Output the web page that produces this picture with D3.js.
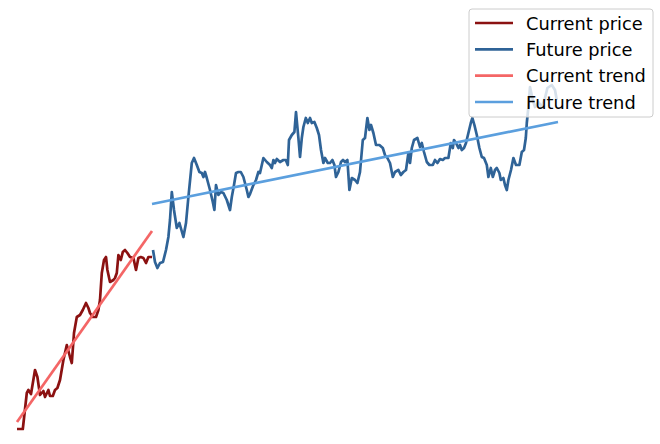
<!DOCTYPE html>
<html>
<head>
<meta charset="utf-8">
<script src="https://cdn.jsdelivr.net/npm/d3@7"></script>
<style>
  html, body { margin: 0; padding: 0; background: #fff; }
  svg { display: block; }
</style>
</head>
<body>
<svg id="chart" width="660" height="444"></svg>
<script>
// ---- data (day index, price) ----
const currentDays = [0, 2.9, 4.9, 5.7, 7.0, 9.0, 10.2, 11.5, 13.2, 14.0, 15.7, 16.5, 17.9, 19.0, 20.2, 21.5, 23.2, 24.9, 26.5, 27.4, 28.5, 29.9, 31.5, 32.9, 34.5, 35.7, 36.5, 37.9, 39.5, 40.7, 41.5, 42.4, 43.5, 44.5, 45.2, 46.5, 48.2, 49.0, 49.9, 50.7, 51.9, 52.9, 54.0, 55.2, 56.5, 58.2, 59.5, 60.7, 61.9, 63.2, 64.5, 65.7, 66.9, 67.5];
const currentPrice = [20.1, 20.1, 23.7, 24.0, 23.6, 26.0, 25.3, 23.5, 23.9, 23.3, 24.0, 23.4, 23.4, 24.0, 24.2, 25.0, 27.0, 28.5, 27.3, 26.7, 29.7, 31.3, 31.5, 32.0, 32.7, 32.2, 31.7, 31.3, 31.3, 32.0, 33.0, 35.7, 37.0, 37.3, 36.0, 34.8, 35.0, 35.2, 35.7, 37.5, 37.0, 37.8, 38.0, 37.7, 37.3, 37.2, 36.0, 37.2, 37.3, 37.2, 36.7, 37.3, 37.3, 37.3];

const futureDays = [68.0, 69.0, 70.2, 71.5, 73.0, 74.5, 75.7, 76.5, 77.4, 78.5, 79.9, 81.2, 83.2, 84.5, 85.7, 87.4, 88.5, 89.9, 91.2, 92.4, 93.2, 94.0, 94.9, 96.5, 97.9, 98.7, 99.5, 100.7, 101.9, 103.2, 104.9, 106.5, 107.4, 108.5, 109.5, 110.7, 111.9, 113.2, 114.9, 115.7, 116.5, 118.0, 119.5, 120.7, 121.5, 123.2, 124.9, 126.5, 127.4, 128.2, 129.0, 129.9, 131.5, 133.2, 134.4, 135.4, 136.0, 137.4, 138.7, 139.5, 140.7, 141.5, 142.4, 143.2, 144.4, 145.4, 146.5, 147.4, 148.7, 149.9, 151.0, 152.0, 153.2, 154.0, 155.4, 156.5, 157.7, 158.7, 159.5, 160.7, 162.0, 163.0, 164.0, 165.2, 166.2, 167.4, 169.0, 170.2, 171.5, 172.9, 174.0, 175.2, 176.2, 177.0, 178.2, 179.5, 181.2, 182.9, 184.0, 185.2, 186.5, 187.9, 189.0, 190.7, 191.9, 193.2, 194.5, 195.7, 196.5, 197.4, 198.5, 200.2, 201.5, 202.4, 203.5, 204.9, 206.2, 207.9, 209.0, 210.2, 211.5, 212.9, 214.0, 215.7, 216.9, 217.9, 218.5, 219.5, 220.7, 221.5, 222.4, 223.5, 224.5, 225.7, 226.9, 227.7, 228.7, 229.9, 231.2, 232.4, 233.5, 234.9, 235.7, 236.9, 237.9, 239.0, 239.9, 241.2, 241.9, 243.2, 244.0, 244.9, 245.7, 247.0, 248.2, 249.5, 251.2, 252.4, 253.5, 254.4, 254.9, 255.7, 256.5, 257.9, 259.0, 260.7, 262.4, 264.0, 265.2, 267.4, 269.0, 269.9];
const futurePrice = [38.0, 36.8, 36.2, 36.7, 36.8, 38.0, 39.3, 41.0, 43.8, 42.0, 40.2, 40.7, 39.3, 40.7, 43.3, 46.7, 47.2, 46.5, 45.8, 45.7, 45.3, 45.8, 45.2, 44.0, 42.8, 42.0, 44.5, 43.5, 43.8, 43.7, 43.0, 42.0, 43.3, 44.5, 45.7, 45.8, 45.8, 45.3, 44.0, 43.3, 43.6, 44.4, 45.0, 45.8, 45.7, 47.2, 46.8, 46.5, 46.2, 47.0, 46.7, 47.1, 46.8, 47.0, 47.0, 46.5, 49.0, 49.5, 49.8, 51.8, 49.2, 47.3, 49.2, 50.3, 51.2, 50.7, 51.2, 50.7, 50.8, 50.2, 49.5, 48.0, 46.7, 47.2, 46.7, 46.7, 47.0, 46.5, 45.3, 45.8, 46.8, 47.0, 46.8, 47.0, 44.0, 45.2, 45.0, 44.7, 45.8, 49.0, 49.2, 51.2, 50.0, 50.5, 49.7, 48.5, 48.5, 48.2, 47.5, 47.2, 46.7, 45.3, 45.8, 46.0, 45.5, 45.8, 46.0, 47.7, 46.7, 48.2, 49.0, 49.2, 48.3, 48.7, 47.8, 46.8, 46.5, 46.5, 47.0, 46.7, 47.1, 47.0, 47.2, 47.2, 48.7, 48.2, 49.0, 48.7, 48.2, 48.5, 48.0, 48.2, 48.7, 49.7, 50.7, 51.2, 50.5, 49.5, 48.2, 47.3, 47.2, 46.5, 45.3, 46.2, 45.3, 46.0, 46.2, 45.7, 45.0, 45.2, 44.5, 44.0, 45.0, 46.0, 47.2, 46.5, 46.5, 47.8, 48.0, 49.2, 50.7, 52.3, 54.3, 53.0, 52.3, 52.8, 52.3, 53.2, 54.2, 54.5, 54.0, 53.0];

const currentTrendDays = [0, 67.5];
const currentTrendPrice = [20.8, 39.9];
const futureTrendDays = [67.5, 270.5];
const futureTrendPrice = [42.6, 50.8];

const seriesNames = ["Current price", "Future price", "Current trend", "Future trend"];
const seriesColors = ["#8b1111", "#2f6397", "#f46666", "#5b9fde"];

// ---- drawing ----
const svg = d3.select("#chart");
const x = d3.scaleLinear().domain([0, 270]).range([17, 557]);
const y = d3.scaleLinear().domain([20, 55]).range([430, 80]);

const zip = (a, b) => a.map((d, i) => [d, b[i]]);
const line = d3.line().x(d => x(d[0])).y(d => y(d[1]));

const series = [
  zip(currentDays, currentPrice),
  zip(futureDays, futurePrice),
  zip(currentTrendDays, currentTrendPrice),
  zip(futureTrendDays, futureTrendPrice)
];

svg.append("g").selectAll("path")
  .data(series)
  .join("path")
  .attr("d", line)
  .attr("fill", "none")
  .attr("stroke", (d, i) => seriesColors[i])
  .attr("stroke-width", 2.7)
  .attr("stroke-linejoin", "round")
  .attr("stroke-linecap", "butt");

// ---- legend ----
const lg = svg.append("g").attr("transform", "translate(469,9)");
lg.append("rect")
  .attr("x", 0).attr("y", 0)
  .attr("width", 184).attr("height", 108)
  .attr("rx", 3).attr("ry", 3)
  .attr("fill", "#ffffff").attr("fill-opacity", 0.8)
  .attr("stroke", "#cccccc").attr("stroke-width", 1);

const rowY = d3.scalePoint().domain(seriesNames).range([14, 93]);
const items = lg.selectAll("g.item")
  .data(seriesNames)
  .join("g")
  .attr("class", "item")
  .attr("transform", d => `translate(0,${rowY(d)})`);
items.append("line")
  .attr("x1", 6).attr("x2", 44)
  .attr("stroke", (d, i) => seriesColors[i])
  .attr("stroke-width", 2.7);
items.append("text")
  .attr("x", 57).attr("y", 6.5)
  .attr("font-family", "DejaVu Sans, sans-serif")
  .attr("font-size", 17.8)
  .attr("fill", "#000")
  .text(d => d);
</script>
</body>
</html>
